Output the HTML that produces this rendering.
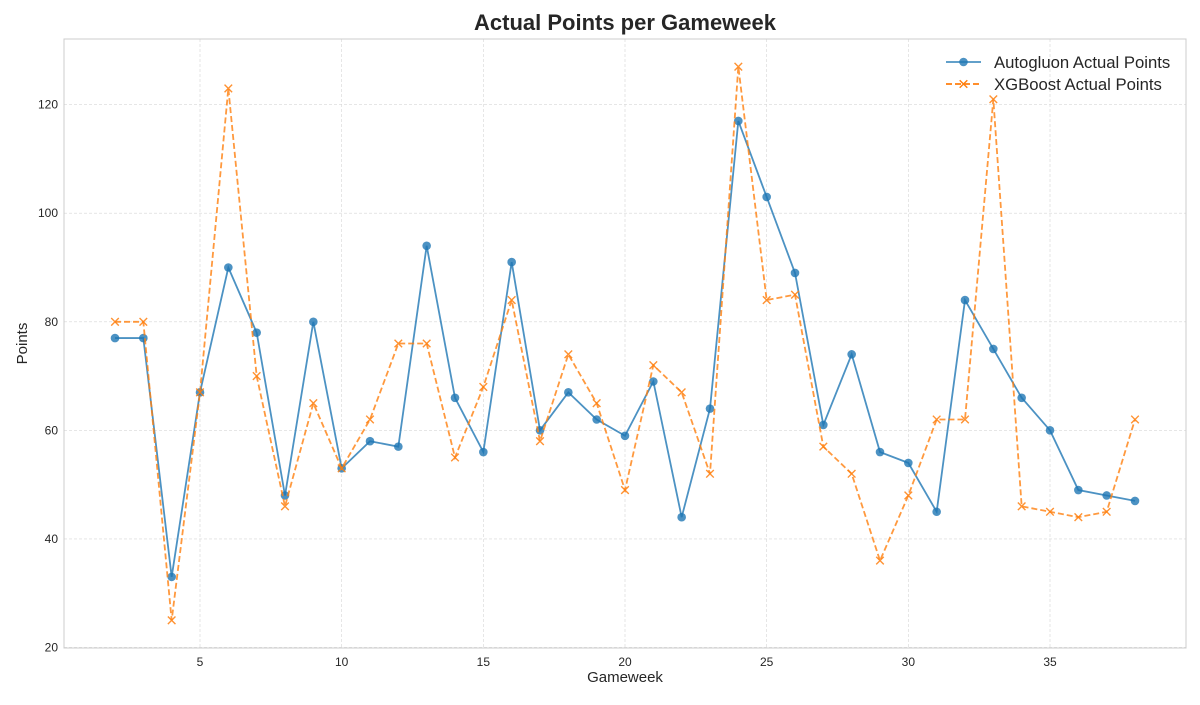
<!DOCTYPE html>
<html><head><meta charset="utf-8"><style>
body{margin:0;background:#fff;font-family:"Liberation Sans","DejaVu Sans",sans-serif;}
svg text{font-family:"Liberation Sans","DejaVu Sans",sans-serif;}
</style></head><body>
<svg id="chart" width="1200" height="700"></svg>
<script>
const gameweeks=[2,3,4,5,6,7,8,9,10,11,12,13,14,15,16,17,18,19,20,21,22,23,24,25,26,27,28,29,30,31,32,33,34,35,36,37,38];
const autogluonPoints=[77,77,33,67,90,78,48,80,53,58,57,94,66,56,91,60,67,62,59,69,44,64,117,103,89,61,74,56,54,45,84,75,66,60,49,48,47];
const xgboostPoints=[80,80,25,67,123,70,46,65,53,62,76,76,55,68,84,58,74,65,49,72,67,52,127,84,85,57,52,36,48,62,62,121,46,45,44,45,62];
const xTicks=[5,10,15,20,25,30,35];
const yTicks=[20,40,60,80,100,120];

const L=64,R=1186,T=39,B=648;
const xmin=0.2,xmax=39.8,ymin=19.9,ymax=132.1;
const sx=v=>L+(v-xmin)/(xmax-xmin)*(R-L);
const sy=v=>B-(v-ymin)/(ymax-ymin)*(B-T);
const svg=document.getElementById('chart');
const NS='http://www.w3.org/2000/svg';
function mk(tag,attrs,parent){const e=document.createElementNS(NS,tag);for(const k in attrs)e.setAttribute(k,attrs[k]);(parent||svg).appendChild(e);return e;}

let t=mk('text',{x:625,y:30,'text-anchor':'middle','font-size':22,'font-weight':'bold',fill:'#262626'});t.textContent='Actual Points per Gameweek';



for(const v of xTicks){
  const l=mk('line',{x1:sx(v),x2:sx(v),y1:T,y2:B,stroke:'#d6d6d6','stroke-width':0.6,'stroke-dasharray':'3,2'});
  
  
  const tx=mk('text',{x:sx(v),y:B+18,'text-anchor':'middle','font-size':12,fill:'#262626'});tx.textContent=v;
  
  
}
for(const v of yTicks){
  const l=mk('line',{x1:L,x2:R,y1:sy(v),y2:sy(v),stroke:'#d6d6d6','stroke-width':0.6,'stroke-dasharray':'3,2'});
  
  
  const tx=mk('text',{x:L-6,y:sy(v)+4,'text-anchor':'end','font-size':12,fill:'#262626'});tx.textContent=v;
  
  
}
const frame=mk('rect',{x:L,y:T,width:R-L,height:B-T,fill:'none',stroke:'#cccccc','stroke-width':1});



let xl=mk('text',{x:(L+R)/2,y:682,'text-anchor':'middle','font-size':15,fill:'#262626'});xl.textContent='Gameweek';


let yl=mk('text',{x:0,y:0,'text-anchor':'middle','font-size':15,fill:'#262626',transform:`translate(27,${(T+B)/2}) rotate(-90)`});yl.textContent='Points';



const blue='#1f77b4',orange='#ff7f0e';
const p1=mk('polyline',{points:gameweeks.map((g,i)=>sx(g)+','+sy(autogluonPoints[i])).join(' '),fill:'none',stroke:blue,'stroke-width':1.8,'stroke-opacity':0.8});


gameweeks.forEach((g,i)=>{
  const c=mk('circle',{cx:sx(g),cy:sy(autogluonPoints[i]),r:4.3,fill:blue,'fill-opacity':0.8});
  
  
});
const p2=mk('polyline',{points:gameweeks.map((g,i)=>sx(g)+','+sy(xgboostPoints[i])).join(' '),fill:'none',stroke:orange,'stroke-width':1.8,'stroke-opacity':0.8,'stroke-dasharray':'6,3'});


gameweeks.forEach((g,i)=>{
  const x=sx(g),y=sy(xgboostPoints[i]),d=3.8;
  const m=mk('path',{d:`M${x-d},${y-d}L${x+d},${y+d}M${x-d},${y+d}L${x+d},${y-d}`,stroke:orange,'stroke-width':1.4,'stroke-opacity':0.85});
  
  
});

const lg=mk('g',{});


mk('line',{x1:946,x2:981,y1:62,y2:62,stroke:blue,'stroke-width':1.8,'stroke-opacity':0.8},lg);
mk('circle',{cx:963.5,cy:62,r:4.3,fill:blue,'fill-opacity':0.8},lg);
let lt1=mk('text',{x:994,y:68,'font-size':16.7,fill:'#262626'},lg);lt1.textContent='Autogluon Actual Points';


mk('line',{x1:946,x2:981,y1:84,y2:84,stroke:orange,'stroke-width':1.8,'stroke-dasharray':'6,3'},lg);
mk('path',{d:'M959.7,80.2L967.3,87.8M959.7,87.8L967.3,80.2',stroke:orange,'stroke-width':1.4},lg);
let lt2=mk('text',{x:994,y:90,'font-size':16.7,fill:'#262626'},lg);lt2.textContent='XGBoost Actual Points';


</script>
</body></html>
